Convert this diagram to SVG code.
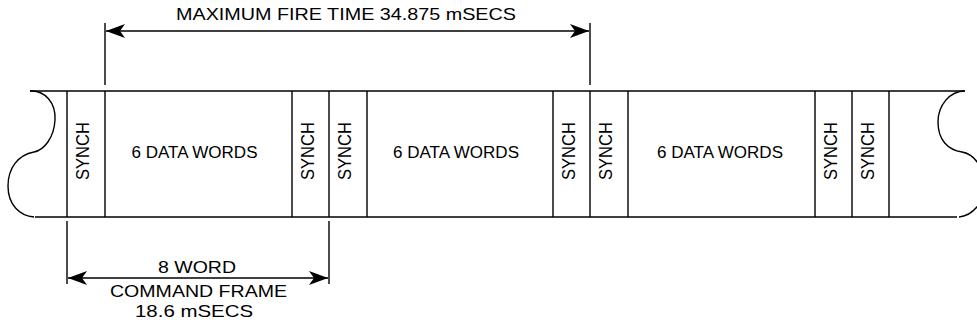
<svg xmlns="http://www.w3.org/2000/svg" width="977" height="328" viewBox="0 0 977 328">
<style>
.ln{stroke:#000;stroke-width:1.4;fill:none}
.t{font-family:"Liberation Sans",Arial,sans-serif;font-size:16.5px;fill:#000}
.d{font-family:"Liberation Sans",Arial,sans-serif;font-size:16px;fill:#000;text-anchor:middle}
.s{font-family:"Liberation Sans",Arial,sans-serif;font-size:17.5px;fill:#000;text-anchor:middle}
</style>
<defs>
<marker id="ah" markerUnits="userSpaceOnUse" markerWidth="24" markerHeight="20" viewBox="-20 -10 24 20" refX="0" refY="0" orient="auto-start-reverse">
<path d="M0,0 L-19,-7 L-14,0 L-19,7 Z" fill="#000"/>
</marker>
</defs>
<g id="frame">
<path class="ln" d="M30,91 H965"/>
<path class="ln" d="M35,217 H957"/>
<path class="ln" d="M30,91 C45,90 56,103 55,120 C54,138 44,150 34,152 C18,155 8,168 8,186 C8,205 20,216 34,217"/>
<path class="ln" d="M965,91 C950,91 938,105 938,122 C938,140 948,150 962,152 C975,154 985,170 985,185 C985,202 972,216 959,217"/>
</g>
<g id="dividers">
<path class="ln" d="M67,91V217M105,91V217M292,91V217M329,91V217M367,91V217M553,91V217M590,91V217M628,91V217M815,91V217M852,91V217M889,91V217"/>
</g>
<g id="synch1"><text class="s" transform="translate(88.5,151) rotate(-90)" textLength="58" lengthAdjust="spacingAndGlyphs">SYNCH</text></g>
<g id="data1"><text class="d" x="194.5" y="157.7" textLength="126" lengthAdjust="spacingAndGlyphs">6 DATA WORDS</text></g>
<g id="synch2"><text class="s" transform="translate(313.5,151) rotate(-90)" textLength="58" lengthAdjust="spacingAndGlyphs">SYNCH</text></g>
<g id="synch3"><text class="s" transform="translate(351,151) rotate(-90)" textLength="58" lengthAdjust="spacingAndGlyphs">SYNCH</text></g>
<g id="data2"><text class="d" x="456" y="157.7" textLength="126" lengthAdjust="spacingAndGlyphs">6 DATA WORDS</text></g>
<g id="synch4"><text class="s" transform="translate(574.5,151) rotate(-90)" textLength="58" lengthAdjust="spacingAndGlyphs">SYNCH</text></g>
<g id="synch5"><text class="s" transform="translate(612,151) rotate(-90)" textLength="58" lengthAdjust="spacingAndGlyphs">SYNCH</text></g>
<g id="data3"><text class="d" x="720" y="157.7" textLength="126" lengthAdjust="spacingAndGlyphs">6 DATA WORDS</text></g>
<g id="synch6"><text class="s" transform="translate(836.5,151) rotate(-90)" textLength="58" lengthAdjust="spacingAndGlyphs">SYNCH</text></g>
<g id="synch7"><text class="s" transform="translate(873.5,151) rotate(-90)" textLength="58" lengthAdjust="spacingAndGlyphs">SYNCH</text></g>
<g id="connectors">
<path class="ln" d="M105,23V85M590,23V85"/>
<path class="ln" d="M106,31H589" marker-start="url(#ah)" marker-end="url(#ah)"/>
<path class="ln" d="M67,221V284M329,221V284"/>
<path class="ln" d="M68,278H328" marker-start="url(#ah)" marker-end="url(#ah)"/>
</g>
<g id="labels">
<text class="t" x="176" y="20" textLength="340" lengthAdjust="spacingAndGlyphs">MAXIMUM FIRE TIME 34.875 mSECS</text>
<text class="t" x="158" y="273" textLength="78" lengthAdjust="spacingAndGlyphs">8 WORD</text>
<text class="t" x="110" y="297" textLength="177" lengthAdjust="spacingAndGlyphs">COMMAND FRAME</text>
<text class="t" x="135" y="317" textLength="118" lengthAdjust="spacingAndGlyphs">18.6 mSECS</text>
</g>
</svg>
